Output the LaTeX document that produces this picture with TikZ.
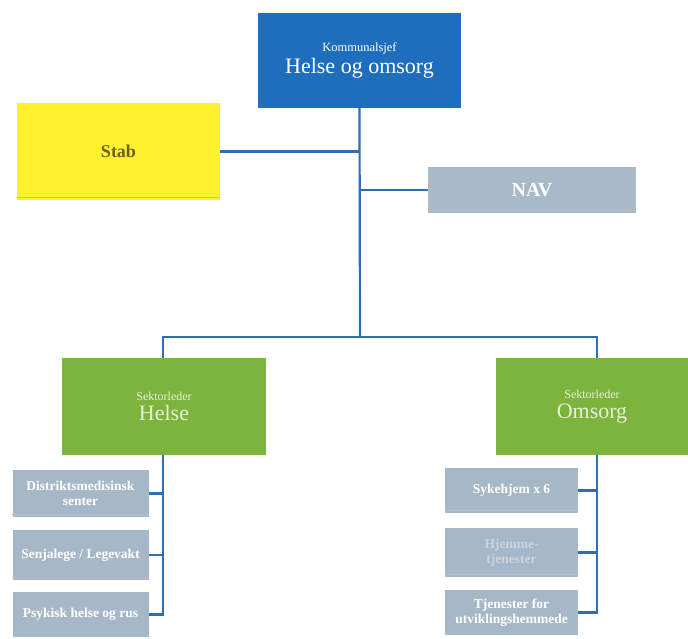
\documentclass[tikz,border=0pt]{standalone}
\usepackage{fontspec}
\setmainfont{Liberation Serif}
\definecolor{topblue}{HTML}{1F6EBE}
\definecolor{stabyel}{HTML}{FFF12E}
\definecolor{stabtxt}{HTML}{6E6115}
\definecolor{navgray}{HTML}{A8B9C7}
\definecolor{subgray}{HTML}{A6B7C7}
\definecolor{leafgreen}{HTML}{7DB43E}
\definecolor{linkblue}{HTML}{2F6DB2}
\definecolor{shadowgray}{HTML}{B8BEC4}
\definecolor{fadetxt}{HTML}{CAD4DE}
\definecolor{softwhite}{HTML}{E8F0D8}
\tikzset{
  box/.style={inner sep=0pt, align=center, text=white},
  topbox/.style={box, fill=topblue},
  stabbox/.style={box, fill=stabyel, text=stabtxt, font=\bfseries\fontsize{18}{20}\selectfont},
  navbox/.style={box, fill=navgray, font=\bfseries\fontsize{20}{22}\selectfont},
  greenbox/.style={box, fill=leafgreen, text=softwhite},
  subbox/.style={box, fill=subgray, font=\bfseries\fontsize{13.5}{15}\selectfont},
  link/.style={draw=linkblue, line width=2.2pt},
  shadowline/.style={draw=shadowgray, line width=1.4pt},
}
\begin{document}
\begin{tikzpicture}[x=1pt,y=-1pt]
\useasboundingbox (0,0) rectangle (688,638);
% nodes
\node[topbox, minimum width=203pt, minimum height=95pt] (top) at (359.5,60.5)
  {{\fontsize{12.5}{14}\selectfont Kommunalsjef}\\[4pt]{\fontsize{22}{24}\selectfont Helse og omsorg}};
\node[stabbox, minimum width=203pt, minimum height=97pt] (stab) at (118.5,151.5) {Stab};
\node[navbox, minimum width=208pt, minimum height=46pt] (nav) at (532,190) {NAV};
\node[greenbox, minimum width=204pt, minimum height=97pt] (helse) at (164,406.5)
  {{\fontsize{12}{13}\selectfont Sektorleder}\\[4pt]{\fontsize{22}{24}\selectfont Helse}};
\node[greenbox, minimum width=192pt, minimum height=97pt] (omsorg) at (592,406.5)
  {{\fontsize{12}{13}\selectfont Sektorleder}\\[4pt]{\fontsize{22}{24}\selectfont Omsorg}};
% left subs
\node[subbox, minimum width=136pt, minimum height=47pt] (d1) at (80.5,493.5) {Distriktsmedisinsk\\senter};
\node[subbox, minimum width=136pt, minimum height=50pt] (d2) at (80.5,555) {Senjalege / Legevakt};
\node[subbox, minimum width=136pt, minimum height=45pt] (d3) at (80.5,614.5) {Psykisk helse og rus};
% right subs
\node[subbox, minimum width=133pt, minimum height=45pt] (s1) at (511.5,490.5) {Sykehjem x 6};
\node[subbox, minimum width=133pt, minimum height=49pt, text=fadetxt] (s2) at (511.5,552.5) {Hjemme-\\tjenester};
\node[subbox, minimum width=133pt, minimum height=45pt] (s3) at (511.5,612.5) {Tjenester for\\utviklingshemmede};
% shadow lines
\foreach \n in {stab,nav,d1,d2,s1,s2}
  \draw[shadowline] ([yshift=3pt]\n.south west) -- ([yshift=3pt]\n.south east);
% connectors
\coordinate (bar) at (360,337);
\coordinate (hv) at (163,0);
\coordinate (ov) at (597,0);
\draw[link] (top.south) -- (bar);
\draw[link] (stab.east) -- (stab.east -| top.south);
\draw[link] (nav.west) -- (nav.west -| top.south);
\draw[link] (helse.north -| hv) -- (bar -| hv) -- (bar -| ov) -- (omsorg.north -| ov);
\draw[link] (helse.south -| hv) -- (d3.east -| hv) -- (d3.east);
\draw[link] (d1.east) -- (d1.east -| hv);
\draw[link] (d2.east) -- (d2.east -| hv);
\draw[link] (omsorg.south -| ov) -- (s3.east -| ov) -- (s3.east);
\draw[link] (s1.east) -- (s1.east -| ov);
\draw[link] (s2.east) -- (s2.east -| ov);
\end{tikzpicture}
\end{document}
